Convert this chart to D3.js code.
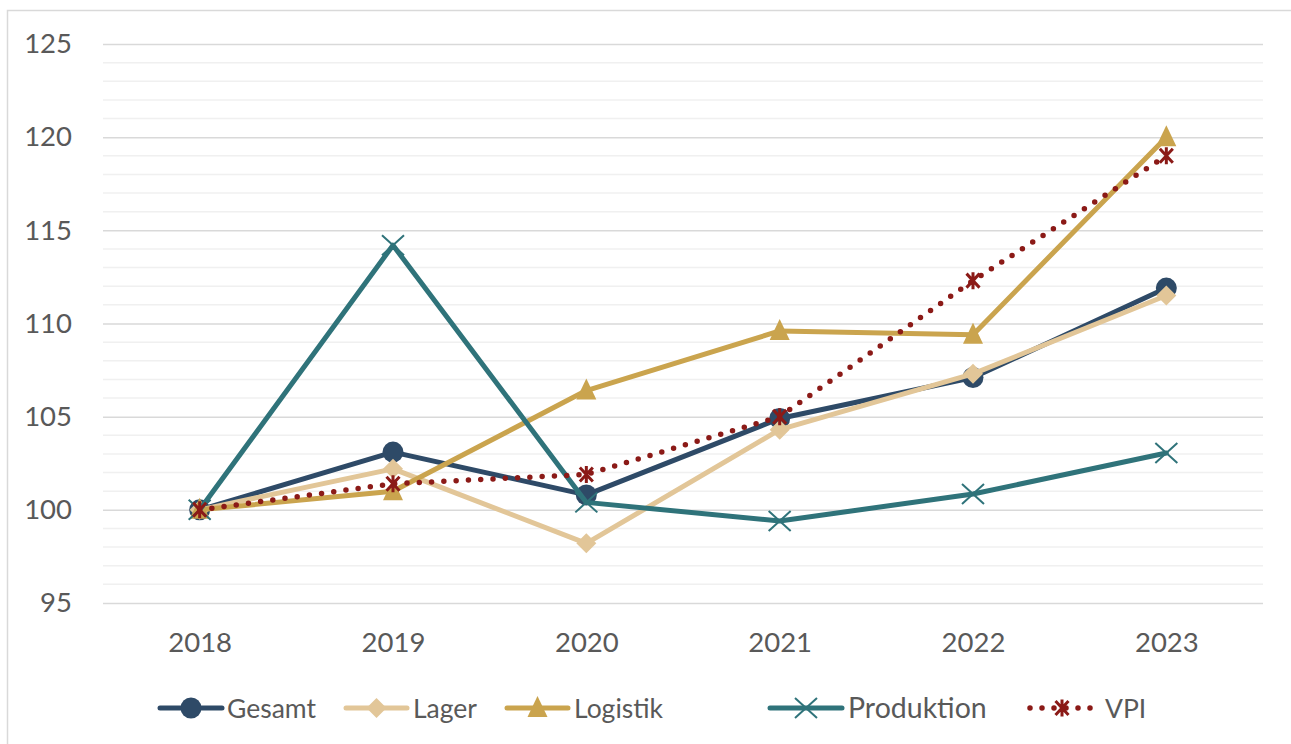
<!DOCTYPE html>
<html>
<head>
<meta charset="utf-8">
<script src="https://cdn.jsdelivr.net/npm/d3@7"></script>
<style>
  body { margin: 0; background: #fff; }
  text { font-family: Lato, "Open Sans", sans-serif; fill: #595959; }
</style>
</head>
<body>
<div id="chart"></div>
<script>
// data
const years = ["2018", "2019", "2020", "2021", "2022", "2023"];
const gesamt = [100, 103.1, 100.8, 104.9, 107.1, 111.9];
const lager = [100, 102.2, 98.2, 104.3, 107.3, 111.5];
const logistik = [100, 101.0, 106.4, 109.6, 109.4, 120.0];
const produktion = [100, 114.2, 100.4, 99.4, 100.85, 103.05];
const vpi = [100, 101.4, 101.9, 105.0, 112.3, 119.0];
const yTicks = [95, 100, 105, 110, 115, 120, 125];

const W = 1291, H = 744;
const margin = { top: 44, right: 28, bottom: 141, left: 103 };

const series = [
  { name: "Gesamt", values: gesamt, color: "#2e4a67", marker: "circle", dash: null },
  { name: "Lager", values: lager, color: "#e2c698", marker: "diamond", dash: null },
  { name: "Logistik", values: logistik, color: "#caa44e", marker: "triangle", dash: null },
  { name: "Produktion", values: produktion, color: "#2f737a", marker: "cross", dash: null },
  { name: "VPI", values: vpi, color: "#8b1a17", marker: "star", dash: "0 12.3" }
];

const svg = d3.select("#chart").append("svg")
  .attr("width", W).attr("height", H);

// chart border
svg.append("rect")
  .attr("x", 7.5).attr("y", 10.5)
  .attr("width", W + 10).attr("height", H + 10)
  .attr("fill", "none").attr("stroke", "#d9d9d9").attr("stroke-width", 1.5);

const x = d3.scalePoint().domain(years)
  .range([margin.left, W - margin.right]).padding(0.5);
const y = d3.scaleLinear().domain([95, 125])
  .range([H - margin.bottom, margin.top]);

// minor gridlines
svg.append("g").selectAll("line")
  .data(d3.range(96, 125).filter(v => v % 5 !== 0))
  .join("line")
  .attr("x1", margin.left).attr("x2", W - margin.right)
  .attr("y1", d => y(d)).attr("y2", d => y(d))
  .attr("stroke", "#f0f0f0").attr("stroke-width", 1.5);

// y axis with major gridlines
const yAxis = svg.append("g")
  .attr("transform", `translate(${margin.left},0)`)
  .call(d3.axisLeft(y).tickValues(yTicks)
    .tickSize(-(W - margin.left - margin.right)).tickPadding(31));
yAxis.select(".domain").remove();
yAxis.selectAll(".tick line").attr("stroke", "#d9d9d9").attr("stroke-width", 1.5);
yAxis.selectAll(".tick text").style("font-size", "27.5px").attr("fill", "#595959");

// x axis labels
const xAxis = svg.append("g")
  .attr("transform", `translate(0,${H - margin.bottom})`)
  .call(d3.axisBottom(x).tickSize(0).tickPadding(29));
xAxis.select(".domain").remove();
xAxis.selectAll(".tick text").style("font-size", "27.5px").attr("fill", "#595959");

function drawMarker(g, type, color) {
  if (type === "circle") {
    g.append("circle").attr("r", 10.5).attr("fill", color);
  } else if (type === "diamond") {
    g.append("path").attr("d", "M0,-10L10,0L0,10L-10,0Z").attr("fill", color);
  } else if (type === "triangle") {
    g.append("path").attr("d", "M0,-12L10,9L-10,9Z").attr("fill", color);
  } else if (type === "cross") {
    g.append("path").attr("d", "M-11,-10L11,10M-11,10L11,-10")
      .attr("stroke", color).attr("stroke-width", 2).attr("fill", "none");
  } else if (type === "star") {
    g.append("path").attr("d", "M-6.5,-7L6.5,7M-6.5,7L6.5,-7M0,-8.5L0,8.5")
      .attr("stroke", color).attr("stroke-width", 3).attr("fill", "none");
  }
}

const line = d3.line().x((d, i) => x(years[i])).y(d => y(d));

series.forEach(s => {
  svg.append("path")
    .datum(s.values)
    .attr("d", line)
    .attr("fill", "none")
    .attr("stroke", s.color)
    .attr("stroke-width", s.dash ? 5.5 : 5)
    .attr("stroke-linecap", "round")
    .attr("stroke-linejoin", "round")
    .attr("stroke-dasharray", s.dash);

  s.values.forEach((v, i) => {
    const g = svg.append("g").attr("transform", `translate(${x(years[i])},${y(v)})`);
    drawMarker(g, s.marker, s.color);
  });
});

// legend: [line start, line end, text start]
const legendPos = [[160, 222, 227], [346, 407, 413], [507, 568, 574], [770, 842, 848], [1030, 1094, 1105]];
const legendY = 708;
series.forEach((s, i) => {
  const [x0, x1, tx] = legendPos[i];
  const lg = svg.append("g").attr("transform", `translate(0,${legendY})`);
  lg.append("line")
    .attr("x1", x0).attr("x2", x1)
    .attr("stroke", s.color)
    .attr("stroke-width", s.dash ? 5.5 : 5)
    .attr("stroke-linecap", "round")
    .attr("stroke-dasharray", s.dash ? "0 12" : null);
  const m = lg.append("g").attr("transform", `translate(${(x0 + x1) / 2},0)`);
  drawMarker(m, s.marker, s.color);
  lg.append("text")
    .attr("x", tx)
    .attr("dy", "0.36em")
    .style("font-size", i === 3 ? "28.5px" : "26.5px")
    .text(s.name);
});
</script>
</body>
</html>
